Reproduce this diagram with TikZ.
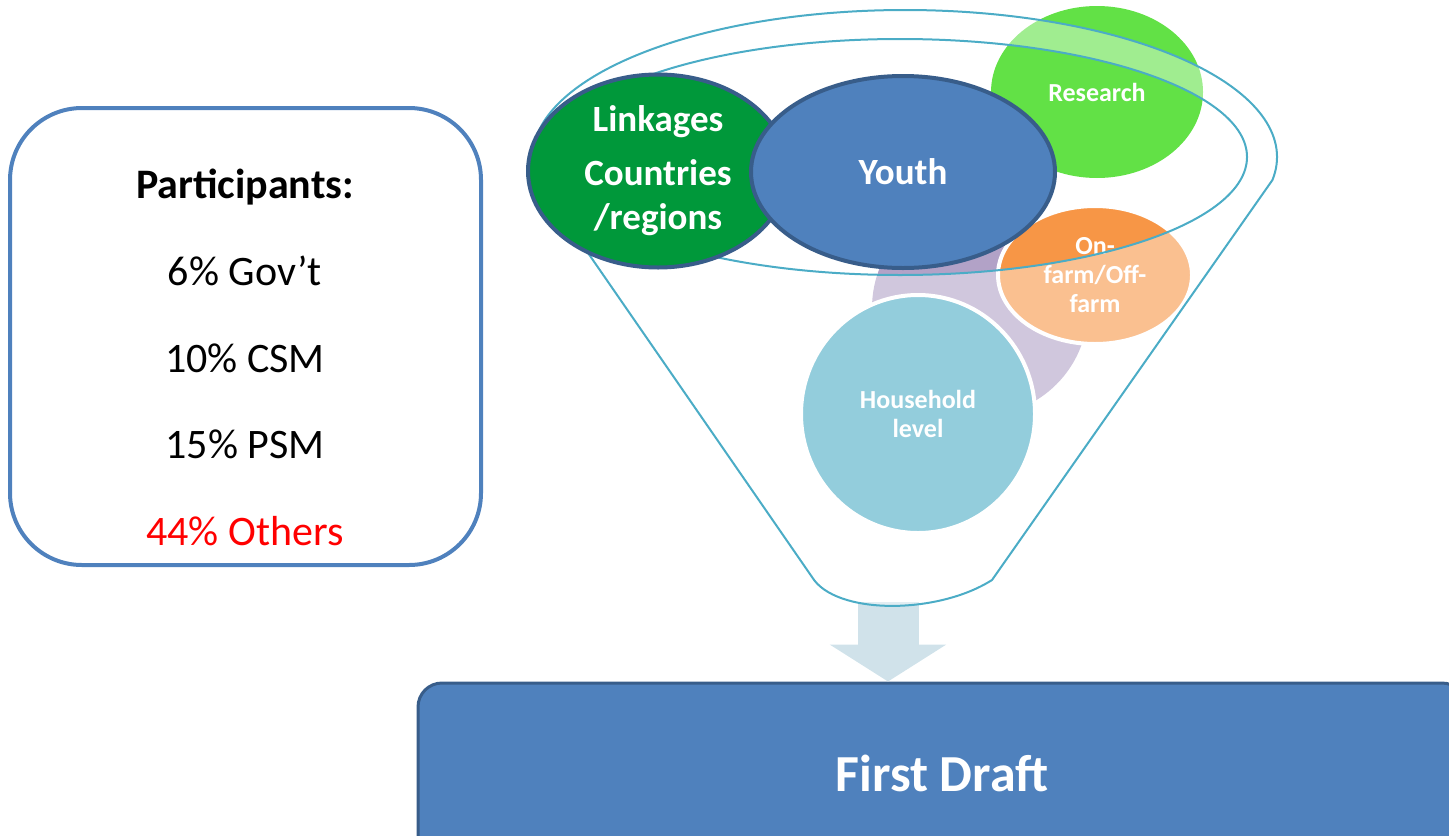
\documentclass[tikz,border=0pt]{standalone}
\usepackage{fontspec}
\setmainfont{Carlito}
\usepackage[]{tikz}
\usetikzlibrary{arrows.meta}
\usetikzlibrary{shapes.geometric}
\definecolor{partblue}{RGB}{79,129,189}
\definecolor{ringblue}{RGB}{56,93,138}
\definecolor{funnelline}{RGB}{75,172,198}
\definecolor{arrowblue}{RGB}{208,226,234}
\definecolor{linkgreen}{RGB}{0,152,58}
\definecolor{researchgreen}{RGB}{98,225,70}
\definecolor{lavender}{RGB}{178,162,199}
\definecolor{householdblue}{RGB}{75,172,198}
\definecolor{farmorange}{RGB}{247,150,70}
\definecolor{othersred}{RGB}{255,0,0}
\tikzset{blob/.style = {ellipse, inner sep = 0, text = white, align = center}}
\tikzset{bigtxt/.style = {font = \fontsize{18.5}{22}\selectfont\bfseries}}
\tikzset{smalltxt/.style = {font = \fontsize{13}{14.5}\selectfont\bfseries}}
\tikzset{ring/.style = {draw = ringblue, line width = 2pt}}
\tikzset{whitering/.style = {draw = white, line width = 2pt}}
\tikzset{listtxt/.style = {anchor = base, font = \fontsize{21}{25}\selectfont}}
\tikzset{headtxt/.style = {anchor = base, font = \fontsize{21}{25}\selectfont\bfseries}}
\tikzset{partbox/.style = {draw = partblue, line width = 2pt, rounded corners = 36pt}}
\tikzset{draftbox/.style = {draw = ringblue, line width = 1.5pt, fill = partblue, rounded corners = 12pt, text = white, font = \fontsize{26}{30}\selectfont\bfseries}}
\tikzset{flow/.style = {draw = arrowblue, line width = 30.5pt, -{Triangle[length = 18.5pt, width = 57.5pt]}}}
\tikzset{funnel/.style = {draw = funnelline, line width = 1pt, fill = white, fill opacity = 0.4, even odd rule}}

\begin{document}
\begin{tikzpicture}[x=0.5pt, y=-0.5pt]
            \clip (0,0) rectangle (1449,835);
            \node [partbox, minimum width=235.5pt, minimum height=228.5pt] (parts) at (245.5,336.5) {};
            \node [headtxt] (head) at (245,198) {Participants:};
            \node [listtxt] (gov) at (245,285) {6\% Gov’t};
            \node [listtxt] (csm) at (245,372) {10\% CSM};
            \node [listtxt] (psm) at (245,458) {15\% PSM};
            \node [listtxt, text=othersred] (others) at (245,545) {44\% Others};
            \node [draftbox, minimum width=524pt, minimum height=90pt] (draft) at (942,773) {First Draft};
            \coordinate (spout) at (888,602);
            \draw [flow] (spout) -- (spout |- draft.north);
            \node [blob, smalltxt, fill=researchgreen, minimum width=106pt, minimum height=86pt] (research) at (1097,92) {Research};
            \node [blob, fill=lavender, minimum width=108pt, minimum height=108pt] (shade) at (980,308) {};
            \node [blob, smalltxt, whitering, fill=householdblue, minimum width=117pt, minimum height=119pt] (household) at (918,414) {Household\\level};
            \node [blob, smalltxt, whitering, fill=farmorange, minimum width=97pt, minimum height=69pt] (farm) at (1095,275) {On-\\farm/Off-\\farm};
            \coordinate (rimleft) at (537.6,180);
            \coordinate (tipright) at (992,580);
            \coordinate (tipleft) at (812,577);
            \path [funnel] (rimleft) arc [start angle=171, end angle=369, x radius=372, y radius=147] -- (tipright) .. controls (937,615) and (835,615) .. (tipleft) -- cycle (900,157) ellipse [x radius=347, y radius=118];
            \node [blob, bigtxt, ring, fill=linkgreen, minimum width=130pt, minimum height=96.5pt] (linkages) at (658,171) {Linkages\\[5pt]Countries\\/regions};
            \node [blob, bigtxt, ring, fill=partblue, minimum width=152pt, minimum height=96pt] (youth) at (903,172) {Youth};
        \end{tikzpicture}
\end{document}
